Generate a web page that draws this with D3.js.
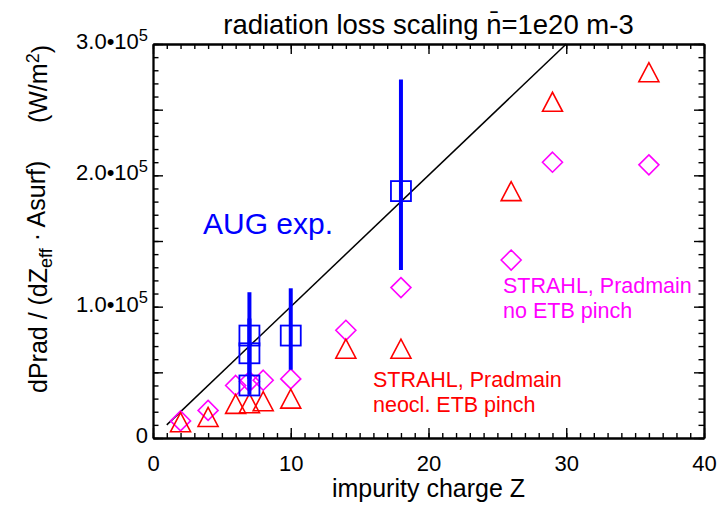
<!DOCTYPE html>
<html>
<head>
<meta charset="utf-8">
<title>radiation loss scaling</title>
<script src="https://cdn.jsdelivr.net/npm/d3@7"></script>
<style>
  body { margin: 0; background: #fff; }
  svg { display: block; }
  text { font-family: "Liberation Sans", Arial, Helvetica, sans-serif; }
</style>
</head>
<body>
<script>
// data
const zNoPinch = [2, 4, 6, 7, 8, 10, 14, 18, 26, 29, 36];
const pNoPinch = [0.13e5, 0.21e5, 0.40e5, 0.43e5, 0.44e5, 0.45e5, 0.82e5, 1.145e5, 1.355e5, 2.10e5, 2.08e5];

const zNeocl = [2, 4, 6, 7, 8, 10, 14, 18, 26, 29, 36];
const pNeocl = [0.12e5, 0.16e5, 0.26e5, 0.265e5, 0.28e5, 0.30e5, 0.68e5, 0.68e5, 1.88e5, 2.56e5, 2.785e5];

const zExp = [7, 7, 7, 10, 18];
const pExp = [0.78e5, 0.645e5, 0.40e5, 0.78e5, 1.88e5];
const pExpLow = [0.45e5, 0.37e5, 0.33e5, 0.52e5, 1.28e5];
const pExpHigh = [1.11e5, 0.91e5, 0.47e5, 1.14e5, 2.73e5];

const zFit = [1, 30];
const pFit = [1e4, 3e5];

const xTicks = [0, 10, 20, 30, 40];
const yTicks = [0, 1e5, 2e5, 3e5];
const yTickMant = ["0", "1.0•10", "2.0•10", "3.0•10"];
const yTickExp = ["", "5", "5", "5"];

const width = 717, height = 506;
const margin = {top: 44, right: 13, bottom: 68, left: 153};

const x = d3.scaleLinear().domain([0, 40]).range([margin.left, width - margin.right]);
const y = d3.scaleLinear().domain([0, 3e5]).range([height - margin.bottom, margin.top]);

const svg = d3.select("body").append("svg")
    .attr("width", width)
    .attr("height", height);

// ---- axes (ticks point inward, IDL style)
function styleAxis(g) {
    g.attr("font-size", 22).attr("font-family", null);
    g.select(".domain").attr("stroke-width", 1.8);
    g.selectAll(".tick line").attr("stroke-width", 1.4);
}

const minorX = d3.range(0, 41, 1);
const minorY = d3.range(0, 300001, 10000);
const midY = d3.range(0, 300001, 50000);

// bottom
svg.append("g").attr("transform", `translate(0,${y(0)})`)
    .call(d3.axisBottom(x).tickValues(minorX).tickSizeInner(-5).tickSizeOuter(0).tickFormat(""))
    .call(styleAxis);
svg.append("g").attr("transform", `translate(0,${y(0)})`)
    .call(d3.axisBottom(x).tickValues(xTicks).tickSizeInner(-10).tickSizeOuter(0).tickPadding(17))
    .call(styleAxis)
    .call(g => g.selectAll(".tick text").attr("fill", "#000"));
// top
svg.append("g").attr("transform", `translate(0,${y(3e5)})`)
    .call(d3.axisTop(x).tickValues(minorX).tickSizeInner(-5).tickSizeOuter(0).tickFormat(""))
    .call(styleAxis);
svg.append("g").attr("transform", `translate(0,${y(3e5)})`)
    .call(d3.axisTop(x).tickValues(xTicks).tickSizeInner(-10).tickSizeOuter(0).tickFormat(""))
    .call(styleAxis);
// left
svg.append("g").attr("transform", `translate(${x(0)},0)`)
    .call(d3.axisLeft(y).tickValues(minorY).tickSizeInner(-5.5).tickSizeOuter(0).tickFormat(""))
    .call(styleAxis);
svg.append("g").attr("transform", `translate(${x(0)},0)`)
    .call(d3.axisLeft(y).tickValues(midY).tickSizeInner(-10).tickSizeOuter(0).tickFormat(""))
    .call(styleAxis);
const yLab = svg.append("g").attr("transform", `translate(${x(0)},0)`)
    .call(d3.axisLeft(y).tickValues(yTicks).tickSizeInner(0).tickSizeOuter(0).tickPadding(5))
    .call(styleAxis);
yLab.select(".domain").remove();
yLab.selectAll(".tick text").each(function(d, i) {
    const t = d3.select(this).text(null).attr("fill", "#000").attr("dy", "0.2em");
    t.append("tspan").text(yTickMant[i]);
    if (yTickExp[i]) t.append("tspan").attr("dy", "-0.5em").attr("font-size", "0.75em").text(yTickExp[i]);
});
// right
svg.append("g").attr("transform", `translate(${x(40)},0)`)
    .call(d3.axisRight(y).tickValues(minorY).tickSizeInner(-5.5).tickSizeOuter(0).tickFormat(""))
    .call(styleAxis);
svg.append("g").attr("transform", `translate(${x(40)},0)`)
    .call(d3.axisRight(y).tickValues(midY).tickSizeInner(-10).tickSizeOuter(0).tickFormat(""))
    .call(styleAxis);

// ---- titles
svg.append("text")
    .attr("x", (x(0) + x(40)) / 2).attr("y", 34)
    .attr("text-anchor", "middle").attr("font-size", 27.5)
    .text("radiation loss scaling n\u0304=1e20 m-3");

svg.append("text")
    .attr("x", (x(0) + x(40)) / 2).attr("y", 497)
    .attr("text-anchor", "middle").attr("font-size", 25)
    .text("impurity charge Z");

const yt = svg.append("text")
    .attr("transform", "translate(47,393) rotate(-90)")
    .attr("font-size", 25);
yt.append("tspan").text("dPrad / (dZ");
yt.append("tspan").attr("dy", "0.3em").attr("font-size", "0.72em").text("eff");
yt.append("tspan").attr("dy", "-0.3em").text(" \u00b7 Asurf)");

const yu = svg.append("text")
    .attr("transform", "translate(47,45) rotate(-90)")
    .attr("text-anchor", "end")
    .attr("font-size", 25);
yu.append("tspan").text("(W/m");
yu.append("tspan").attr("dy", "-0.45em").attr("font-size", "0.72em").text("2");
yu.append("tspan").attr("dy", "0.45em").text(")");

// ---- scaling line
svg.append("path")
    .datum(d3.zip(zFit, pFit))
    .attr("fill", "none").attr("stroke", "#000").attr("stroke-width", 1.5)
    .attr("d", d3.line().x(d => x(d[0])).y(d => y(d[1])));

// ---- simulations
const diamond = "M0,-10L10,0L0,10L-10,0Z";
const triangle = "M-10,9.5L0,-9.5L10,9.5Z";

svg.append("g").selectAll("path")
    .data(d3.zip(zNoPinch, pNoPinch)).join("path")
    .attr("d", diamond)
    .attr("transform", d => `translate(${x(d[0])},${y(d[1])})`)
    .attr("fill", "none").attr("stroke", "#ff00ff").attr("stroke-width", 1.6);

svg.append("g").selectAll("path")
    .data(d3.zip(zNeocl, pNeocl)).join("path")
    .attr("d", triangle)
    .attr("transform", d => `translate(${x(d[0])},${y(d[1])})`)
    .attr("fill", "none").attr("stroke", "#ff0000").attr("stroke-width", 1.6);

// ---- experiment
const exp = d3.range(zExp.length).map(i => ({z: zExp[i], p: pExp[i], lo: pExpLow[i], hi: pExpHigh[i]}));
svg.append("g").selectAll("rect")
    .data(exp).join("rect")
    .attr("x", d => x(d.z) - 10).attr("y", d => y(d.p) - 10)
    .attr("width", 20).attr("height", 20)
    .attr("fill", "none").attr("stroke", "#0000ff").attr("stroke-width", 1.8);
svg.append("g").selectAll("line")
    .data(exp).join("line")
    .attr("x1", d => x(d.z)).attr("x2", d => x(d.z))
    .attr("y1", d => y(d.lo)).attr("y2", d => y(d.hi))
    .attr("stroke", "#0000ff").attr("stroke-width", 4);

// ---- annotations
svg.append("text")
    .attr("x", x(3.63)).attr("y", y(1.554e5))
    .attr("font-size", 30).attr("fill", "#0000ff")
    .text("AUG exp.");

const magLbl = svg.append("text").attr("font-size", 21.5).attr("fill", "#ff00ff");
magLbl.append("tspan").attr("x", x(25.41)).attr("y", y(1.104e5)).text("STRAHL, Pradmain");
magLbl.append("tspan").attr("x", x(25.41)).attr("dy", 25).text("no ETB pinch");

const redLbl = svg.append("text").attr("font-size", 21.5).attr("fill", "#ff0000");
redLbl.append("tspan").attr("x", x(15.97)).attr("y", y(0.388e5)).text("STRAHL, Pradmain");
redLbl.append("tspan").attr("x", x(15.97)).attr("dy", 25).text("neocl. ETB pinch");
</script>
</body>
</html>
